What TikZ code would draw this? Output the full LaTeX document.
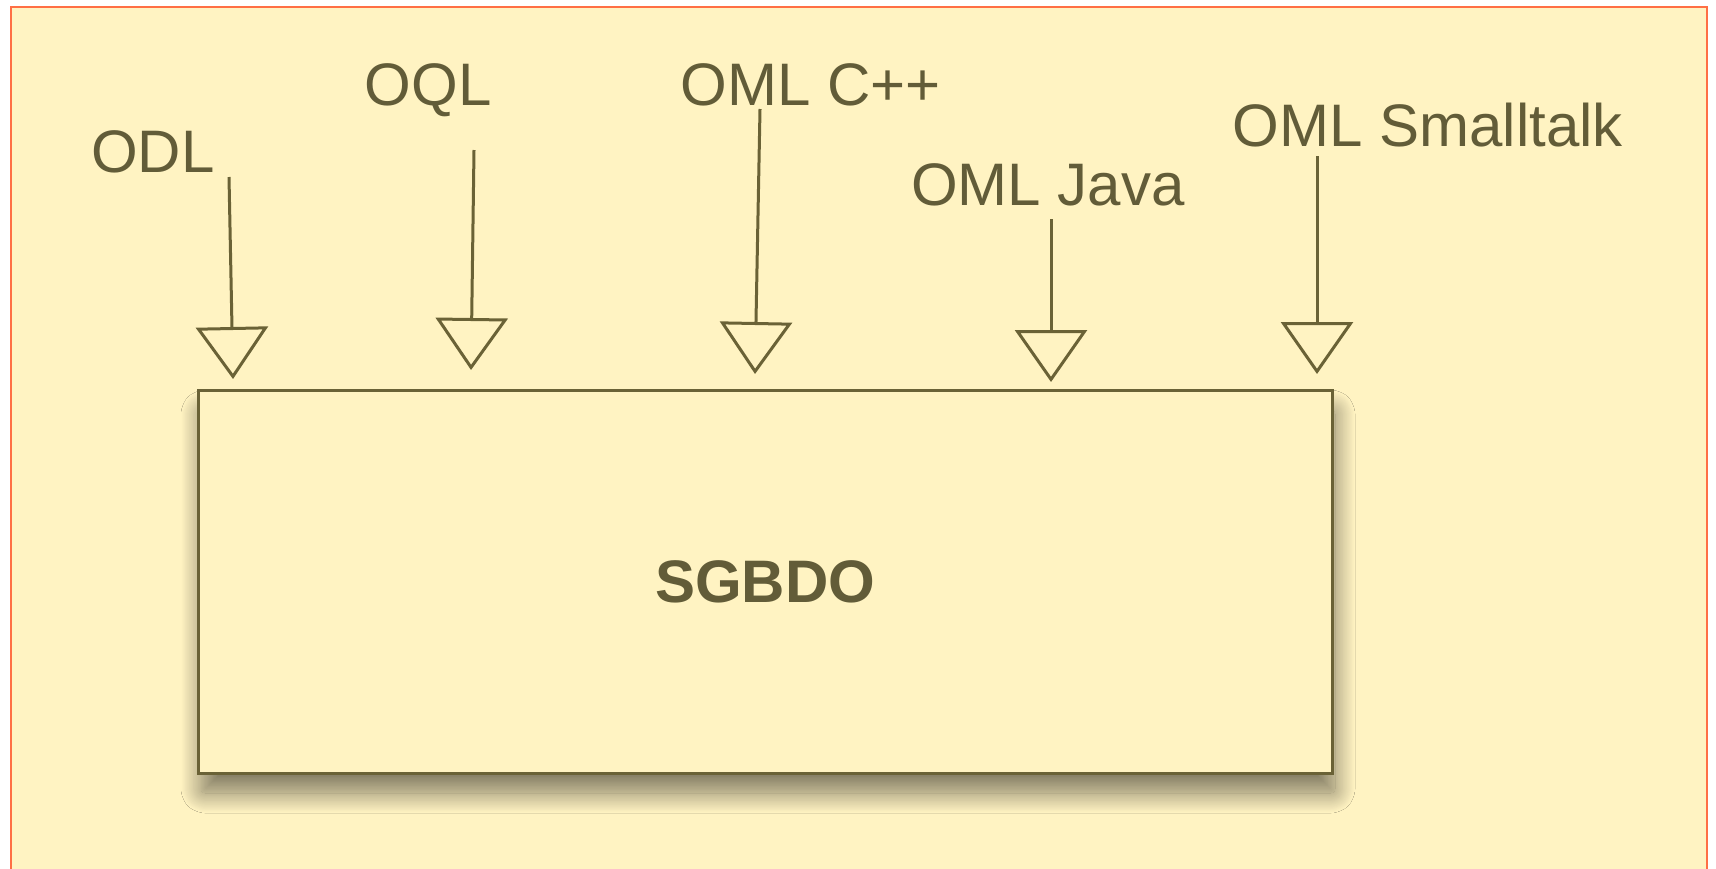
\documentclass[tikz,border=0pt]{standalone}
\usepackage{fontspec}
\setmainfont{Liberation Sans}
\usetikzlibrary{arrows.meta,shadows.blur}
\definecolor{paper}{HTML}{FFF3C2}
\definecolor{ink}{HTML}{6A6236}
\definecolor{textink}{HTML}{625C38}
\definecolor{frame}{HTML}{FF6F45}
\begin{document}
\begin{tikzpicture}[x=0.5pt,y=-0.5pt,
  lbl/.style={anchor=base, inner sep=0pt, text=textink, font=\fontsize{30}{36}\selectfont},
  feed/.style={draw=ink, line width=1.5pt,
    -{Triangle[open, width=36pt, length=26pt, line width=1.5pt]}},
  engine/.style={draw=ink, line width=1.5pt, fill=paper,
    minimum width=567pt, minimum height=191.5pt, inner sep=0pt,
    text=textink, font=\bfseries\fontsize{30}{36}\selectfont,
    blur shadow={shadow xshift=1.5pt, shadow yshift=-10pt,
      shadow blur radius=10pt, shadow blur steps=25,
      shadow blur extra rounding=2pt, shadow opacity=50}}]
\useasboundingbox (0,0) rectangle (1716,868);
% sheet
\fill[paper] (11,7) rectangle (1707,890);
\draw[frame, line width=1pt] (11,7) rectangle (1707,890);

% the object database system
\node[engine] (db) at (765,581.5) {SGBDO};

% standards feeding into it
\node[lbl] (odl) at (153,172) {ODL};
\node[lbl] (oql) at (428,105) {OQL};
\node[lbl] (cpp) at (811,105) {OML C++};
\node[lbl] (java) at (1048,205) {OML Java};
\node[lbl] (st) at (1428,146) {OML Smalltalk};

\coordinate (odl-a) at (229,177);  \coordinate (odl-b) at (233,379);
\coordinate (oql-a) at (474,150);  \coordinate (oql-b) at (471,370);
\coordinate (cpp-a) at (760,109);  \coordinate (cpp-b) at (755,374);
\coordinate (java-a) at (1051,219); \coordinate (java-b) at (1051,382);
\coordinate (st-a) at (1317,156);  \coordinate (st-b) at (1317,374);

\draw[feed] (odl-a) -- (odl-b);
\draw[feed] (oql-a) -- (oql-b);
\draw[feed] (cpp-a) -- (cpp-b);
\draw[feed] (java-a) -- (java-b);
\draw[feed] (st-a) -- (st-b);
\end{tikzpicture}
\end{document}
